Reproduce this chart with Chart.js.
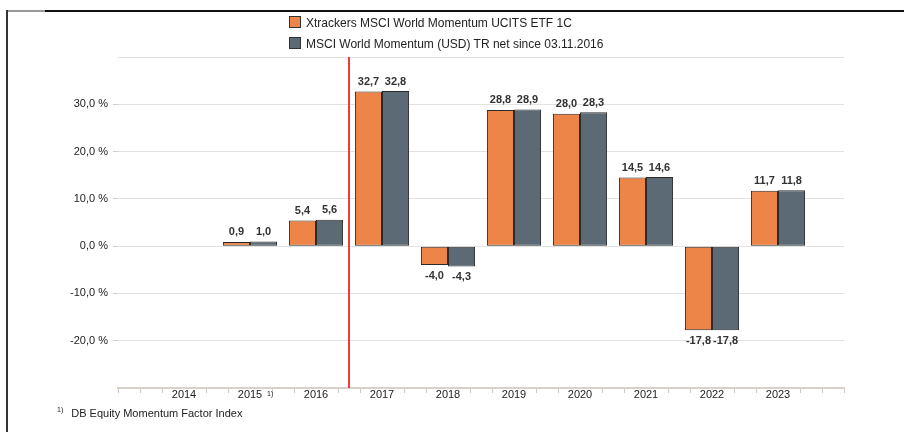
<!DOCTYPE html>
<html>
<head>
<meta charset="utf-8">
<script src="https://cdn.jsdelivr.net/npm/chart.js@4/dist/chart.umd.min.js"></script>
<style>
  body { margin: 0; background: #fff; font-family: "Liberation Sans", Arial, sans-serif; }
  #wrap { position: relative; width: 904px; height: 432px; overflow: hidden; }
  #c { position: absolute; left: 0; top: 0; }
  .frameTop { position: absolute; left: 45px; right: 0; top: 10px; height: 2px; background: #111; }
  .frameTopGray { position: absolute; left: 7px; width: 38px; top: 10px; height: 2px; background: #9a9a9a; }
  .frameLeft { position: absolute; left: 6px; top: 10px; bottom: 0; width: 2px; background: #333; }
  .legend { position: absolute; left: 289px; top: 13px; font-size: 12px; color: #222; }
  .legend div { height: 21px; line-height: 21px; white-space: nowrap; }
  .legend span.box { display: inline-block; width: 10px; height: 10px; border: 1px solid #333; margin-right: 5px; vertical-align: -1px; }
  .foot { position: absolute; left: 57px; top: 406px; font-size: 11px; color: #222; }
  .foot sup { font-size: 7px; margin-right: 8px; }
</style>
</head>
<body>
<div id="wrap">
  <canvas id="c" width="904" height="432"></canvas>
  <div class="frameTopGray"></div>
  <div class="frameTop"></div>
  <div class="frameLeft"></div>
  <div class="legend">
    <div><span class="box" style="background:#EE8548"></span>Xtrackers MSCI World Momentum UCITS ETF 1C</div>
    <div><span class="box" style="background:#5B6A74"></span>MSCI World Momentum (USD) TR net since 03.11.2016</div>
  </div>
  <div class="foot"><sup>1)</sup>DB Equity Momentum Factor Index</div>
</div>
<script>
// years shown on the x axis
const years = ["2014", "2015", "2016", "2017", "2018", "2019", "2020", "2021", "2022", "2023"];
// annual performance in %
const etfValues   = [null, 0.9, 5.4, 32.7, -4.0, 28.8, 28.0, 14.5, -17.8, 11.7];
const indexValues = [null, 1.0, 5.6, 32.8, -4.3, 28.9, 28.3, 14.6, -17.8, 11.8];
const yTicks = [30, 20, 10, 0, -10, -20];

const ORANGE = "#EE8548";
const GREY = "#5B6A74";

// half a category of empty space at each end
const labels = [""].concat(years, [""]);
const pad = arr => [null].concat(arr, [null]);

function fmt(v) {
  return v.toFixed(1).replace(".", ",");
}

const extras = {
  id: "extras",
  afterDraw(chart) {
    const ctx = chart.ctx;
    const x = chart.scales.x;
    const area = chart.chartArea;
    ctx.save();

    // red line marking the fund launch
    const i2016 = labels.indexOf("2016"), i2017 = labels.indexOf("2017");
    const lx = Math.round((x.getPixelForValue(i2016) + x.getPixelForValue(i2017)) / 2);
    ctx.strokeStyle = "#f23a3a";
    ctx.lineWidth = 2;
    ctx.beginPath();
    ctx.moveTo(lx, area.top);
    ctx.lineTo(lx, area.bottom);
    ctx.stroke();

    // value labels
    ctx.font = "bold 11px 'Liberation Sans', Arial, sans-serif";
    ctx.fillStyle = "#333";
    ctx.textAlign = "center";
    chart.data.datasets.forEach((ds, di) => {
      const meta = chart.getDatasetMeta(di);
      meta.data.forEach((bar, i) => {
        const v = ds.data[i];
        if (v === null || v === undefined) return;
        if (v >= 0) {
          ctx.textBaseline = "bottom";
          ctx.fillText(fmt(v), bar.x, bar.y - 4);
        } else {
          ctx.textBaseline = "top";
          ctx.fillText(fmt(v), bar.x, bar.y + 5);
        }
      });
    });

    // minor ticks under the axis
    const step = (x.getPixelForValue(1) - x.getPixelForValue(0)) / 3;
    ctx.strokeStyle = "#cfcac0";
    ctx.lineWidth = 1;
    const n = (labels.length - 1) * 3;
    for (let k = 0; k <= n; k++) {
      if (k % 3 === 0 && k !== 0 && k !== n) continue;
      const tx = Math.round(x.left + k * step) + 0.5;
      ctx.beginPath();
      ctx.moveTo(tx, area.bottom + 1);
      ctx.lineTo(tx, area.bottom + 5);
      ctx.stroke();
    }

    // footnote marker next to 2015
    ctx.font = "7px 'Liberation Sans', Arial, sans-serif";
    ctx.fillStyle = "#222";
    ctx.textAlign = "left";
    ctx.textBaseline = "alphabetic";
    ctx.fillText("1)", x.getPixelForValue(labels.indexOf("2015")) + 17, area.bottom + 8);
    ctx.restore();
  }
};

new Chart(document.getElementById("c"), {
  type: "bar",
  data: {
    labels: labels,
    datasets: [{
      label: "Xtrackers MSCI World Momentum UCITS ETF 1C",
      data: pad(etfValues),
      backgroundColor: ORANGE,
      borderColor: "#2b2b2b",
      borderWidth: 1,
      borderSkipped: false,
      categoryPercentage: 0.82,
      barPercentage: 1
    }, {
      label: "MSCI World Momentum (USD) TR net since 03.11.2016",
      data: pad(indexValues),
      backgroundColor: GREY,
      borderColor: "#2b2b2b",
      borderWidth: 1,
      borderSkipped: false,
      categoryPercentage: 0.82,
      barPercentage: 1
    }]
  },
  options: {
    responsive: false,
    animation: false,
    layout: { padding: { top: 57, left: 7, right: 60, bottom: 0 } },
    plugins: { legend: { display: false }, tooltip: { enabled: false } },
    scales: {
      x: {
        offset: false,
        grid: { display: false },
        border: { display: true, color: "#d6d2c9", width: 2 },
        ticks: {
          color: "#222",
          font: { size: 11, family: "'Liberation Sans', Arial, sans-serif" },
          padding: -8,
          maxRotation: 0,
          autoSkip: false
        },
        afterFit(s) { s.height = 44; }
      },
      y: {
        min: -30,
        max: 40,
        border: { display: false },
        grid: {
          color: ctx => ctx.tick && ctx.tick.value === -30 ? "rgba(0,0,0,0)" : "#e2e2e2",
          tickLength: 5,
          tickColor: ctx => yTicks.includes(ctx.tick.value) ? "#cfcfcf" : "rgba(0,0,0,0)",
          lineWidth: 1
        },
        ticks: {
          stepSize: 10,
          color: "#222",
          padding: 5,
          font: { size: 11, family: "'Liberation Sans', Arial, sans-serif" },
          callback: v => yTicks.includes(v) ? fmt(v) + " %" : ""
        },
        afterFit(s) { s.width = 111; }
      }
    }
  },
  plugins: [extras]
});
</script>
</body>
</html>
